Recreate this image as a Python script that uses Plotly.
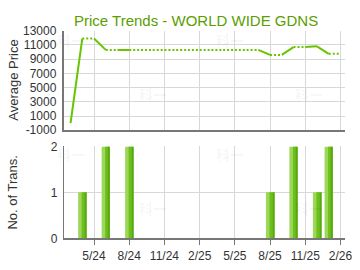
import plotly.graph_objects as go

# ---- data ----
months = ["3/24", "4/24", "5/24", "6/24", "7/24", "8/24", "9/24", "10/24", "11/24", "12/24",
          "1/25", "2/25", "3/25", "4/25", "5/25", "6/25", "7/25", "8/25", "9/25", "10/25",
          "11/25", "12/25", "1/26", "2/26"]
avg_price = [0, 11900, None, 10300, None, 10300, None, None, None, None,
             None, None, None, None, None, None, None, 9600, None, 10700,
             None, 10800, 9750, None]
num_trans = [0, 1, 0, 2, 0, 2, 0, 0, 0, 0,
             0, 0, 0, 0, 0, 0, 0, 1, 0, 2,
             0, 1, 2, 0]
tick_labels = ["5/24", "8/24", "11/24", "2/25", "5/25", "8/25", "11/25", "2/26"]
price_ticks = [-1000, 1000, 3000, 5000, 7000, 9000, 11000, 13000]
price_tick_labels = ["-1000", "1000", "3000", "5000", "7000", "9000", "11000", "13000"]
trans_ticks = [0, 1, 2]

title = "Price Trends - WORLD WIDE GDNS"
GREEN = "#66c400"
TITLE_GREEN = "#5a9e00"
GRID = "#d8d8d8"
AXIS = "#777777"
FONT = "Liberation Sans, Arial, sans-serif"

W, H = 360, 270
x_idx = list(range(len(months)))
tick_idx = [months.index(t) for t in tick_labels]

# carry forward values; solid segments into months with data, dotted otherwise
filled = []
last = None
for p in avg_price:
    if p is not None:
        last = p
    filled.append(last)

sx, sy, dx, dy = [], [], [], []
for i in range(1, len(months)):
    tx, ty = (sx, sy) if avg_price[i] is not None else (dx, dy)
    tx += [x_idx[i - 1], x_idx[i], None]
    ty += [filled[i - 1], filled[i], None]

fig = go.Figure()
fig.add_trace(go.Scatter(x=dx, y=dy, mode="lines", line=dict(color=GREEN, width=2, dash="2px,2px"),
                         xaxis="x", yaxis="y", hoverinfo="skip"))
fig.add_trace(go.Scatter(x=sx, y=sy, mode="lines", line=dict(color=GREEN, width=2),
                         xaxis="x", yaxis="y", hoverinfo="skip"))

bx = [x_idx[i] for i, v in enumerate(num_trans) if v > 0]
by = [v for v in num_trans if v > 0]
# layered bars to imitate the gradient fill
fig.add_trace(go.Bar(x=bx, y=by, width=0.7, marker=dict(color="#9cd75a", line=dict(width=0)),
                     xaxis="x2", yaxis="y2"))
fig.add_trace(go.Bar(x=bx, y=by, width=0.3, offset=-0.05, marker=dict(color="#6cbf1c", line=dict(width=0)),
                     xaxis="x2", yaxis="y2"))
fig.add_trace(go.Bar(x=bx, y=by, width=0.1, offset=0.25, marker=dict(color="#58a810", line=dict(width=0)),
                     xaxis="x2", yaxis="y2"))

x0, x1 = 65 / W, 352 / W
xr = [-0.58, 23.4]
top_dom = [1 - 130 / H, 1 - 25 / H]
bot_dom = [1 - 244 / H, 1 - 147 / H]

common_x = dict(range=xr, domain=[x0, x1], tickmode="array", tickvals=tick_idx,
                showgrid=True, gridcolor=GRID, gridwidth=1, zeroline=False,
                showline=True, linecolor=AXIS, linewidth=2)

annotations = [
    dict(text=title, x=73 / W, y=1 - 14 / H, xref="paper", yref="paper", xanchor="left",
         yanchor="middle", showarrow=False, font=dict(size=15, color=TITLE_GREEN, family=FONT)),
    dict(text="Average Price", x=13 / W, y=1 - 77 / H, xref="paper", yref="paper", textangle=-90,
         showarrow=False, xanchor="center", yanchor="middle", font=dict(size=13, color="#333", family=FONT)),
    dict(text="No. of Trans.", x=13 / W, y=1 - 196 / H, xref="paper", yref="paper", textangle=-90,
         showarrow=False, xanchor="center", yanchor="middle", font=dict(size=13, color="#333", family=FONT)),
]
for (wx, wy) in [(72, 35), (156, 92), (235, 35), (315, 92), (72, 155), (156, 212), (235, 155), (315, 212)]:
    annotations.append(dict(text="<b>科一</b>", x=wx / W, y=1 - wy / H, xref="paper", yref="paper",
                            showarrow=False, xanchor="center", yanchor="middle",
                            font=dict(size=14, color="rgba(0,0,0,0.045)", family="Noto Sans CJK SC")))

fig.update_layout(
    width=W, height=H, margin=dict(l=0, r=0, t=0, b=0),
    paper_bgcolor="white", plot_bgcolor="white", showlegend=False,
    barmode="overlay", font=dict(family=FONT, size=12, color="#333"),
    xaxis=dict(**common_x, anchor="y", showticklabels=False, ticks=""),
    xaxis2=dict(**common_x, anchor="y2", ticktext=tick_labels, ticks="outside", ticklen=5,
                tickcolor=AXIS, tickfont=dict(size=12, color="#333")),
    yaxis=dict(domain=top_dom, range=[-1000, 13000], tickmode="array", tickvals=price_ticks,
               ticktext=price_tick_labels,
               showgrid=True, gridcolor=GRID, zeroline=False, showline=True, linecolor=AXIS,
               linewidth=2, ticks="outside", ticklen=3, tickcolor="white", anchor="x"),
    yaxis2=dict(domain=bot_dom, range=[0, 2], tickmode="array", tickvals=trans_ticks,
                showgrid=True, gridcolor=GRID, zeroline=False, showline=True, linecolor=AXIS,
                linewidth=1, ticks="outside", ticklen=3, tickcolor="white", anchor="x2"),
    annotations=annotations,
)

fig.write_html("out.html")
